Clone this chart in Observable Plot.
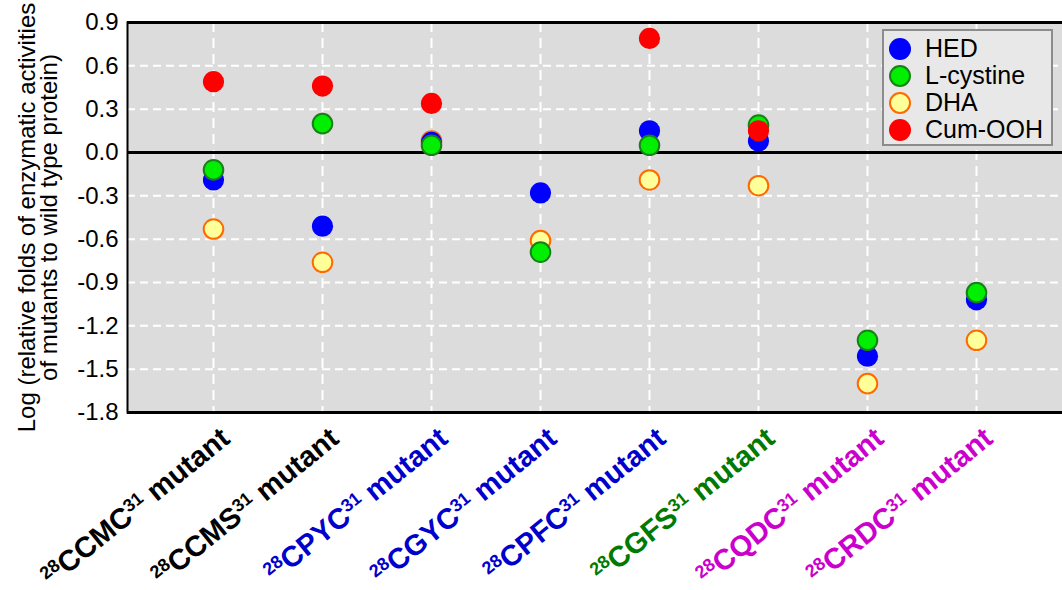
<!DOCTYPE html>
<html><head><meta charset="utf-8">
<script src="https://cdn.jsdelivr.net/npm/d3@7"></script>
<script src="https://cdn.jsdelivr.net/npm/@observablehq/plot@0.6"></script>
<style>
body{margin:0;background:#fff;font-family:"Liberation Sans",Arial,sans-serif;}
#wrap{position:relative;width:1062px;height:590px;overflow:hidden;}
#legend{position:absolute;left:882px;top:29px;width:167px;height:113px;background:#e8e8e8;border:2px solid #8c8c8c;box-sizing:content-box;}
.row{position:absolute;left:0;height:27px;display:flex;align-items:center;font-size:25px;color:#000;white-space:nowrap;}
.sw{width:22px;height:22px;border-radius:50%;box-sizing:border-box;margin-left:5px;margin-right:14px;}
</style></head><body><div id="wrap"></div>
<script>
const categories = ["CCMC","CCMS","CPYC","CGYC","CPFC","CGFS","CQDC","CRDC"];
const labelColors = ["#000000","#000000","#0000cc","#0000cc","#0000cc","#007a00","#cc00cc","#cc00cc"];
const supPre = "28", supPost = "31", word = " mutant";
const yTicks = [-1.8,-1.5,-1.2,-0.9,-0.6,-0.3,0,0.3,0.6,0.9];
const yTitle = ["Log (relative folds of enzymatic activities","of mutants to wild type protein)"];

const HED     = [-0.19, -0.51, 0.07, -0.28, 0.15, 0.08, -1.41, -1.02];
const Lcys    = [-0.12,  0.20, 0.05, -0.69, 0.05, 0.19, -1.30, -0.97];
const DHA     = [-0.53, -0.76, 0.08, -0.61, -0.19, -0.23, -1.60, -1.30];
const CumOOH  = [ 0.49,  0.46, 0.34, null,  0.79, 0.15, null, null];

const seriesNames = ["HED","L-cystine","DHA","Cum-OOH"];
const seriesValues = [HED, Lcys, DHA, CumOOH];
const seriesFill = ["#0000ff","#00ee00","#ffff99","#ff0000"];
const seriesStroke = ["none","#1a7f1a","#ff6a00","none"];
const drawOrder = [2,0,1,3];

const rows = k => categories.map((c,i)=>({cat:c, v:seriesValues[k][i]})).filter(d=>d.v!=null);

const dotMarks = drawOrder.map(k => Plot.dot(rows(k), {
  x:"cat", y:"v",
  r: seriesStroke[k]==="none" ? 10.6 : 9.8,
  fill: seriesFill[k], stroke: seriesStroke[k], strokeWidth: 2
}));

const fullLabel = d => supPre + d + supPost + word;

const plot = Plot.plot({
  width:1062, height:590,
  marginLeft:127, marginRight:0, marginTop:22, marginBottom:178,
  style:{fontFamily:"Liberation Sans, Arial, sans-serif", background:"transparent", overflow:"visible", color:"#000"},
  x:{type:"point", domain:categories, padding:0.77, axis:null},
  y:{domain:[yTicks[0], yTicks[yTicks.length-1]]},
  marks:[
    Plot.frame({fill:"#dcdcdc"}),
    Plot.gridY(yTicks, {stroke:"#ffffff", strokeOpacity:1, strokeWidth:2, strokeDasharray:"8,5"}),
    Plot.gridX({stroke:"#ffffff", strokeOpacity:1, strokeWidth:2, strokeDasharray:"10,6"}),
    Plot.ruleY([0], {stroke:"#000", strokeWidth:3}),
    Plot.ruleY([yTicks[0], yTicks[yTicks.length-1]], {stroke:"#000", strokeWidth:3}),
    Plot.frame({anchor:"left", stroke:"#000", strokeWidth:2}),
    Plot.axisY({ticks:yTicks, tickSize:0, tickPadding:9, tickFormat:d=>d.toFixed(1), fontSize:24, label:null}),
    ...dotMarks,
    Plot.text([yTitle.join("\n")], {frameAnchor:"left", dx:-89, rotate:-90, fontSize:24, lineHeight:0.92, textAnchor:"middle", fill:"#000"}),
    Plot.text(categories, {x:d=>d, text:fullLabel, frameAnchor:"bottom", dx:18, dy:29, rotate:-39,
      textAnchor:"end", lineAnchor:"bottom", fontSize:29, fontWeight:"bold", fill:(d,i)=>labelColors[i]})
  ]
});

const labelMap = new Map(categories.map(c => [fullLabel(c), c]));
d3.select(plot).selectAll("text").each(function(){
  const name = labelMap.get(this.textContent);
  if (name === undefined) return;
  const t = d3.select(this);
  t.text(null);
  t.append("tspan").attr("font-size",18).attr("dy",-9).text(supPre);
  t.append("tspan").attr("dy",9).text(name);
  t.append("tspan").attr("font-size",18).attr("dy",-9).text(supPost);
  t.append("tspan").attr("dy",9).text(word);
});

const wrap = document.getElementById("wrap");
wrap.appendChild(plot);

const legend = document.createElement("div");
legend.id = "legend";
seriesNames.forEach((n,k)=>{
  const r = document.createElement("div");
  r.className = "row";
  r.style.top = (4 + k*27) + "px";
  const sw = document.createElement("div");
  sw.className = "sw";
  sw.style.background = seriesFill[k];
  if (seriesStroke[k] !== "none") sw.style.border = "2px solid " + seriesStroke[k];
  r.appendChild(sw);
  const s = document.createElement("span");
  s.textContent = n;
  r.appendChild(s);
  legend.appendChild(r);
});
wrap.appendChild(legend);
</script>
</body></html>
